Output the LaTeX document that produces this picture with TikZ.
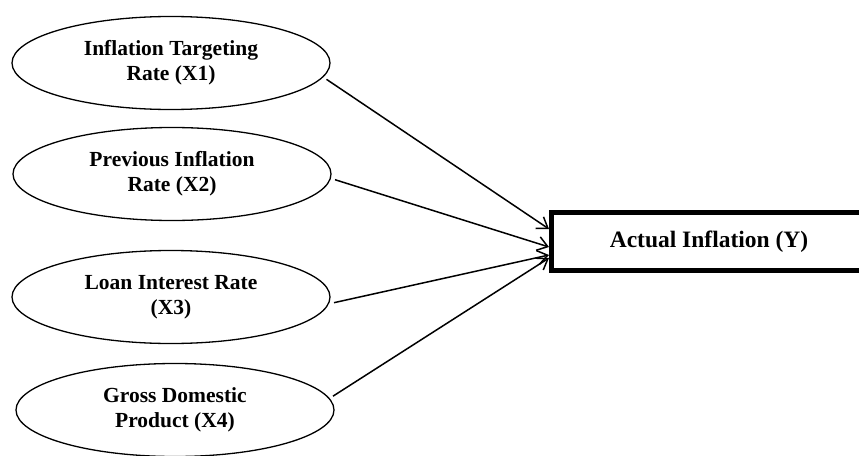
\documentclass[tikz,border=0pt]{standalone}
\usepackage{fontspec}
\setmainfont{Liberation Serif}
\usetikzlibrary{positioning, arrows.meta, shapes.geometric}

\begin{document}
\begin{tikzpicture}[x=1pt, y=-1pt,
  var/.style={ellipse, draw, line width=1.3pt, minimum width=318pt,
    minimum height=93pt, inner sep=0pt, outer sep=5pt, align=center,
    font=\fontsize{21.5}{25}\selectfont\bfseries},
  target/.style={rectangle, draw, line width=5pt, minimum width=315pt,
    minimum height=58pt, font=\fontsize{23.5}{28}\selectfont\bfseries},
  link/.style={-{Straight Barb[length=10pt, width=14pt]}, line width=1.5pt}]
\useasboundingbox (0,0) rectangle (859,455);
\clip (0,0) rectangle (859,455);
\node[var] (x1) at (171,63) {Inflation Targeting\\Rate (X1)};
\node[var] (x2) at (172,174) {Previous Inflation\\Rate (X2)};
\node[var] (x3) at (171,297) {Loan Interest Rate\\(X3)};
\node[var] (x4) at (175,410) {Gross Domestic\\Product (X4)};
\node[target] (y) at (709,241.5) {Actual Inflation (Y)};
\draw[link] (x1.-6) -- ([yshift=12.5]y.west);
\draw[link] (x2.-2.5) -- ([yshift=-5.5]y.west);
\draw[link] (x3.-2) -- ([yshift=-13.5]y.west);
\draw[link] (x4.5) -- ([yshift=-16.5]y.west);
\end{tikzpicture}
\end{document}
